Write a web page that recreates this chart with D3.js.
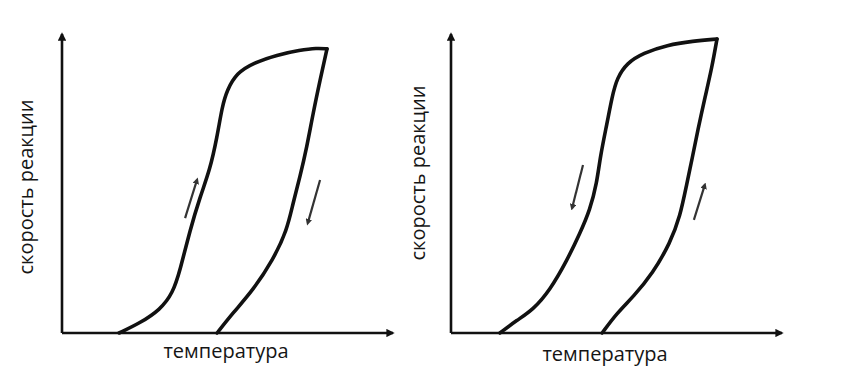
<!DOCTYPE html>
<meta charset="utf-8">
<head>
  <title>Hysteresis</title>
</head>

<style>
body {
  margin: 0;
  background: #fff;
}
text {
  font-family: "Open Sans", sans-serif;
  fill: #151515;
}
</style>

<body>
  <div id="content">
    <svg width="866" height="372"></svg>
  </div>

  <script src="https://cdnjs.cloudflare.com/ajax/libs/d3/7.8.5/d3.min.js"></script>

  <script>
// labels
var xLabel = 'температура';
var yLabel = 'скорость реакции';

// left chart: [temperature, rate], 0..100
var leftUp = [[17.3,0],[23.6,3.3],[29.7,7.7],[33.6,13.3],[35.8,21],[38.8,34.3],[41.8,45.3],[44.8,54.3],
  [47,65.3],[48.5,75.3],[50,81],[53,86.7],[57.9,90],[65.2,92.7],[72.1,94.3],[77.3,95],[80.3,94.7]];
var leftDown = [[80.3,94.7],[78.2,84.3],[76.1,73.3],[74.2,62],[72.1,52],[70,43.3],[68.2,34.3],
  [63.9,24.3],[57.9,14.3],[51.8,6.7],[47,0]];
var leftArrows = [[[37.3,38.3],[40.9,51]], [[78.2,51],[74.5,36.7]]];

// right chart
var rightDown = [[14.8,0],[20,4.3],[24.8,7.7],[30,14.3],[35.2,24.3],[39.1,33.3],[42.1,41],[44.2,50],
  [45.2,58.7],[47.3,70],[48.8,78.7],[50.3,85],[53.3,90],[58.2,93.3],[65.5,96],[73.3,97.3],[80.6,98]];
var rightUp = [[80.6,98],[79.1,88.7],[77,78.7],[74.8,67.7],[73,57.7],[71.5,50],[69.4,38.7],
  [66.4,30],[61.2,20],[55.2,12],[50.3,6.7],[45.8,0]];
var rightArrows = [[[40,56],[36.7,41.7]], [[73.6,37.7],[76.9,49.3]]];

var panels = [
  {ox: 62, oy: 333, curves: [leftUp, leftDown], arrows: leftArrows, xl: [164, 25], yl: [-29, -146]},
  {ox: 451, oy: 333, curves: [rightDown, rightUp], arrows: rightArrows, xl: [154, 28], yl: [-26, -160]}
];

var W = 330, H = 300;
var x = d3.scaleLinear().domain([0, 100]).range([0, W]);
var y = d3.scaleLinear().domain([0, 100]).range([H, 0]);

var svg = d3.select('svg');

var defs = svg.append('defs');
defs.append('marker')
  .attr('id', 'axhead')
  .attr('viewBox', '0 0 10 10')
  .attr('refX', 8).attr('refY', 5)
  .attr('markerWidth', 3.2).attr('markerHeight', 3.2)
  .attr('orient', 'auto')
  .append('path').attr('d', 'M0,0L10,5L0,10z').attr('fill', '#111');
defs.append('marker')
  .attr('id', 'smallhead')
  .attr('viewBox', '0 0 10 10')
  .attr('refX', 6).attr('refY', 5)
  .attr('markerWidth', 3).attr('markerHeight', 3)
  .attr('orient', 'auto')
  .append('path').attr('d', 'M0,0L10,5L0,10z').attr('fill', '#333');

var line = d3.line()
  .x(function(d) { return x(d[0]); })
  .y(function(d) { return y(d[1]); })
  .curve(d3.curveBasis);

panels.forEach(function(p) {
  var g = svg.append('g').attr('transform', 'translate(' + p.ox + ',' + (p.oy - H) + ')');

  // axes, no ticks
  var gx = g.append('g').attr('transform', 'translate(0,' + H + ')')
    .call(d3.axisBottom(x).tickValues([]).tickSizeOuter(0));
  var gy = g.append('g')
    .call(d3.axisLeft(y).tickValues([]).tickSizeOuter(0));
  gx.select('.domain').attr('stroke', '#111').attr('stroke-width', 2.6)
    .attr('d', 'M0,0H' + (W + 1)).attr('marker-end', 'url(#axhead)');
  gy.select('.domain').attr('stroke', '#111').attr('stroke-width', 2.6)
    .attr('d', 'M0,0V' + (-H + 1) + '').attr('transform', 'translate(0,' + H + ')')
    .attr('marker-end', 'url(#axhead)');

  p.curves.forEach(function(c) {
    g.append('path')
      .attr('d', line(c))
      .attr('fill', 'none')
      .attr('stroke', '#111')
      .attr('stroke-width', 3.6)
      .attr('stroke-linecap', 'round')
      .attr('stroke-linejoin', 'round');
  });

  p.arrows.forEach(function(a) {
    g.append('path')
      .attr('d', d3.line().x(function(d) { return x(d[0]); }).y(function(d) { return y(d[1]); })(a))
      .attr('stroke', '#333')
      .attr('stroke-width', 2.2)
      .attr('marker-end', 'url(#smallhead)');
  });

  g.append('text')
    .attr('x', p.xl[0]).attr('y', H + p.xl[1])
    .attr('text-anchor', 'middle')
    .style('font-size', '20px')
    .text(xLabel);

  g.append('text')
    .attr('transform', 'translate(' + p.yl[0] + ',' + (H + p.yl[1]) + ') rotate(-90)')
    .attr('text-anchor', 'middle')
    .style('font-size', '20px')
    .text(yLabel);
});
  </script>
</body>
</html>
